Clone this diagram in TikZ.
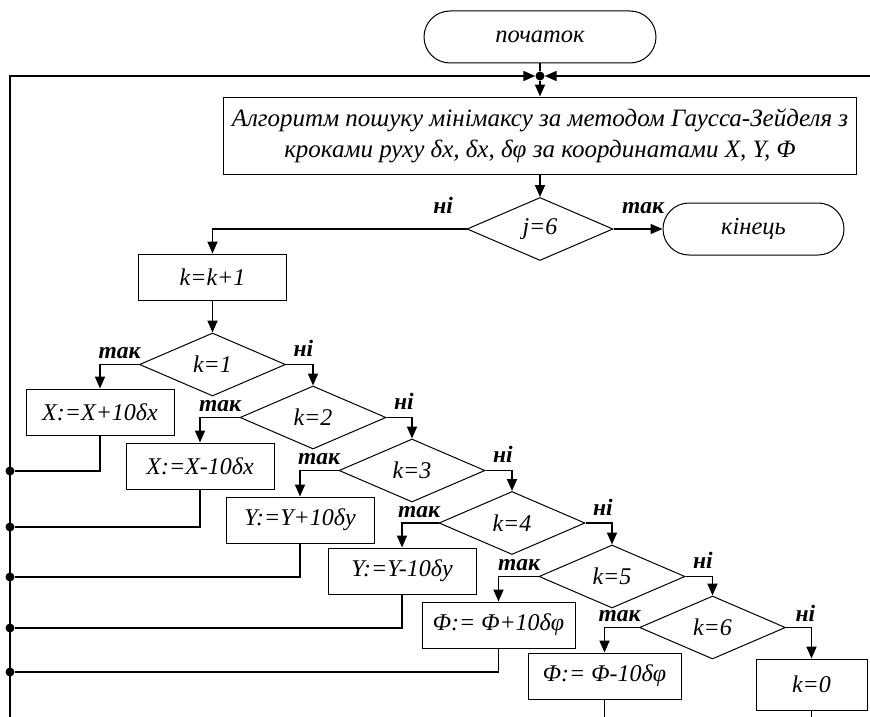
\documentclass[tikz,border=0pt]{standalone}
\usepackage{fontspec}
\setmainfont{Liberation Serif}
\usetikzlibrary{arrows.meta,shapes.geometric}

\tikzset{
  blok/.style={draw, line width=1pt, minimum width=148pt, minimum height=46pt, inner sep=2pt, font=\itshape\fontsize{24}{30}\selectfont},
  umova/.style={draw, diamond, aspect=2.3, line width=1pt, inner sep=0pt, minimum width=146pt, minimum height=63pt, font=\itshape\fontsize{24}{26}\selectfont},
  termin/.style={draw, rectangle, rounded corners=26pt, line width=1pt, minimum height=52pt, font=\itshape\fontsize{24.5}{26}\selectfont},
  strilka/.style={line width=1.8pt, -{Triangle[length=12pt,width=10pt]}},
  zvorot/.style={line width=1.3pt},
  tochka/.style={circle, fill, inner sep=0pt, minimum size=9pt},
  mitka/.style={font=\bfseries\itshape\fontsize{23.5}{26}\selectfont}
}

\begin{document}
\begin{tikzpicture}[x=1pt, y=-1pt]
  \useasboundingbox (0,0) rectangle (870,717);

  % Start and main block
  \node[termin, minimum width=232pt] (start) at (540,37) {початок};
  \node[tochka] (jn) at (540,76) {};
  \coordinate (lt) at (10,76);
  \coordinate (lb) at (10,717);
  \coordinate (rt) at (870,76);
  \node[blok, minimum width=633pt, minimum height=77pt, align=center, font=\itshape\fontsize{25}{31}\selectfont] (algo) at (540,135.5)
    {Алгоритм пошуку мінімаксу за методом Гаусса-Зейделя з\\кроками руху δx, δx, δφ за координатами X, Y, Φ};

  % Outer check
  \node[umova] (j6) at (540,229) {j=6};
  \node[termin, minimum width=181pt] (fin) at (753.5,229) {кінець};
  \node[blok] (kinc) at (212.5,277) {k=k+1};

  % Case diamonds
  \node[umova] (k1) at (212.5,364.5) {k=1};
  \node[umova] (k2) at (313,417.5) {k=2};
  \node[umova] (k3) at (412,470.5) {k=3};
  \node[umova] (k4) at (512,523) {k=4};
  \node[umova] (k5) at (612,576.5) {k=5};
  \node[umova] (k6) at (712.5,627.5) {k=6};

  % Steps
  \node[blok] (xp) at (100,412) {X:=X+10δx};
  \node[blok] (xm) at (200,466) {X:=X-10δx};
  \node[blok] (yp) at (300,520) {Y:=Y+10δy};
  \node[blok] (ym) at (402,571) {Y:=Y-10δy};
  \node[blok, minimum width=153pt] (fp) at (498.5,625) {Φ:= Φ+10δφ};
  \node[blok, minimum width=153pt] (fm) at (604.5,676) {Φ:= Φ-10δφ};
  \node[blok, minimum width=111pt, minimum height=51pt] (k0) at (811.5,684.5) {k=0};

  % Yes / no marks
  \node[mitka, anchor=base east, xshift=-10pt, yshift=16pt] (n0) at (j6.west) {ні};
  \node[mitka, anchor=base west, xshift=5pt, yshift=16pt] (t0) at (j6.east) {так};
  \node[mitka, anchor=base east, xshift=5pt, yshift=6pt] (t1) at (k1.west) {так};
  \node[mitka, anchor=base west, xshift=4pt, yshift=8pt] (n1) at (k1.east) {ні};
  \node[mitka, anchor=base east, xshift=5pt, yshift=6pt] (t2) at (k2.west) {так};
  \node[mitka, anchor=base west, xshift=4pt, yshift=8pt] (n2) at (k2.east) {ні};
  \node[mitka, anchor=base east, xshift=5pt, yshift=6pt] (t3) at (k3.west) {так};
  \node[mitka, anchor=base west, xshift=4pt, yshift=8pt] (n3) at (k3.east) {ні};
  \node[mitka, anchor=base east, xshift=5pt, yshift=6pt] (t4) at (k4.west) {так};
  \node[mitka, anchor=base west, xshift=4pt, yshift=8pt] (n4) at (k4.east) {ні};
  \node[mitka, anchor=base east, xshift=5pt, yshift=6pt] (t5) at (k5.west) {так};
  \node[mitka, anchor=base west, xshift=4pt, yshift=8pt] (n5) at (k5.east) {ні};
  \node[mitka, anchor=base east, xshift=5pt, yshift=6pt] (t6) at (k6.west) {так};
  \node[mitka, anchor=base west, xshift=6pt, yshift=6pt] (n6) at (k6.east) {ні};

  % Junction dots on the left line
  \node[tochka] (d1) at (10,471) {};
  \node[tochka] (d2) at (10,527) {};
  \node[tochka] (d3) at (10,577) {};
  \node[tochka] (d4) at (10,628) {};
  \node[tochka] (d5) at (10,672) {};
  \coordinate (fmb) at (604.5,717);
  \coordinate (k0b) at (811.5,717);

  % Main flow
  \draw[zvorot] (start.south) -- (jn.north);
  \draw[strilka] (lb) -- (lt) -- (jn.west);
  \draw[strilka] (rt) -- (jn.east);
  \draw[strilka] (jn.south) -- (algo.north);
  \draw[strilka] (algo.south) -- (j6.north);
  \draw[strilka] (j6.east) -- (fin.west);
  \draw[strilka] (j6.west) -| (kinc.north);
  \draw[strilka] (kinc.south) -- (k1.north);

  % Branches
  \draw[strilka] (k1.west) -| (xp.north);
  \draw[strilka] (k1.east) -| (k2.north);
  \draw[strilka] (k2.west) -| (xm.north);
  \draw[strilka] (k2.east) -| (k3.north);
  \draw[strilka] (k3.west) -| (yp.north);
  \draw[strilka] (k3.east) -| (k4.north);
  \draw[strilka] (k4.west) -| (ym.north);
  \draw[strilka] (k4.east) -| (k5.north);
  \draw[strilka] (k5.west) -| (fp.north);
  \draw[strilka] (k5.east) -| (k6.north);
  \draw[strilka] (k6.west) -| (fm.north);
  \draw[strilka] (k6.east) -| (k0.north);

  % Returns to the loop
  \draw[zvorot] (xp.south) |- (d1);
  \draw[zvorot] (xm.south) |- (d2);
  \draw[zvorot] (yp.south) |- (d3);
  \draw[zvorot] (ym.south) |- (d4);
  \draw[zvorot] (fp.south) |- (d5);
  \draw[zvorot] (fm.south) -- (fmb);
  \draw[zvorot] (k0.south) -- (k0b);
\end{tikzpicture}
\end{document}
